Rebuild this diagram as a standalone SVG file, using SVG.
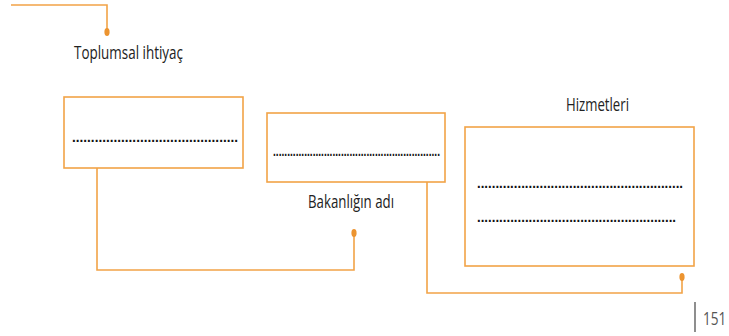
<svg xmlns="http://www.w3.org/2000/svg" width="729" height="336" viewBox="0 0 729 336">
<style>
.box{fill:#fff;stroke:#F2A347;stroke-width:1.6}
.con{fill:none;stroke:#F2A347;stroke-width:1.6}
.dot{fill:#EC9430}
.lbl{font-family:"Open Sans","Liberation Sans",sans-serif;font-size:18px;fill:#222}
.fill{font-family:"Liberation Sans",sans-serif;font-size:15px;font-weight:bold;fill:#111}
</style>
<rect width="729" height="336" fill="#fff"/>
<g id="connectors">
<polyline class="con" points="11,5 107,5 107,30"/>
<ellipse class="dot" cx="107" cy="32" rx="2.6" ry="4"/>
<polyline class="con" points="97,168 97,270 354,270 354,234"/>
<ellipse class="dot" cx="354" cy="233" rx="2.6" ry="4"/>
<polyline class="con" points="427,182 427,293 682,293 682,278"/>
<ellipse class="dot" cx="682" cy="277" rx="2.6" ry="4"/>
</g>
<g id="label-toplumsal">
<text class="lbl" x="74" y="59" textLength="109" lengthAdjust="spacingAndGlyphs">Toplumsal ihtiyaç</text>
</g>
<g id="box1">
<rect class="box" x="64" y="97" width="179" height="71"/>
<text class="fill" x="72" y="142" textLength="166" lengthAdjust="spacingAndGlyphs">............................................</text>
</g>
<g id="box2">
<rect class="box" x="267" y="113" width="178" height="69"/>
<text class="fill" x="273" y="156" textLength="167" lengthAdjust="spacingAndGlyphs">...........................................................</text>
</g>
<g id="label-bakanlik">
<text class="lbl" x="308" y="208" textLength="86" lengthAdjust="spacingAndGlyphs">Bakanlığın adı</text>
</g>
<g id="box3">
<text class="lbl" x="566" y="111" textLength="63" lengthAdjust="spacingAndGlyphs">Hizmetleri</text>
<rect class="box" x="465" y="127" width="229" height="139"/>
<text class="fill" x="477" y="188" textLength="206" lengthAdjust="spacingAndGlyphs">........................................................</text>
<text class="fill" x="477" y="222" textLength="199" lengthAdjust="spacingAndGlyphs">......................................................</text>
</g>
<g id="page-number">
<line x1="695" y1="302" x2="695" y2="332" stroke="#444" stroke-width="1.2"/>
<text transform="translate(703,325) scale(0.85,1.15)" font-family="'Open Sans','Liberation Sans',sans-serif" font-size="16" fill="#555">151</text>
</g>
</svg>
